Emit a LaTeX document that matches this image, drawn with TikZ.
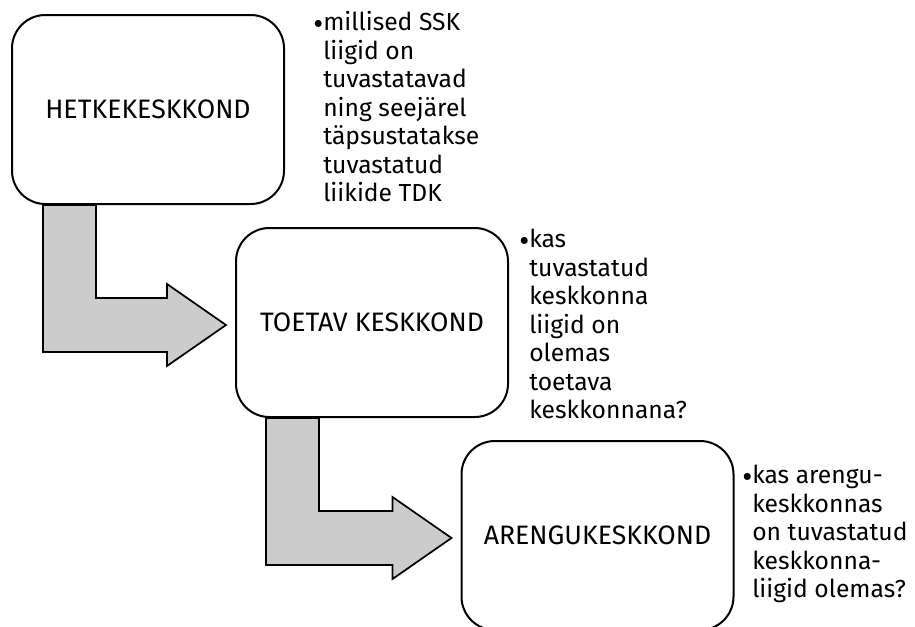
\documentclass[tikz,border=0pt]{standalone}
\usepackage{fontspec}
\setmainfont{Fira Sans}
\usetikzlibrary{calc,backgrounds}

\tikzset{
  stage/.style={draw=black, line width=1.5pt, fill=white, rounded corners=25pt,
    minimum width=204pt, minimum height=141.75pt, inner sep=0pt,
    font=\fontsize{20pt}{22pt}\selectfont},
  notes/.style={anchor=north west, align=left, inner sep=0pt,
    font=\fontsize{18.5pt}{21.4pt}\selectfont},
  bigarrow/.style={draw=black, line width=1.3pt, fill=black!20, line join=miter}
}
\newcommand{\notebullet}{\llap{\raisebox{-0.3ex}{\scalebox{1.25}{•}}}}

\begin{document}
\begin{tikzpicture}[x=0.75pt, y=-0.75pt]
  \useasboundingbox (0,0) rectangle (915,626);
  \clip (0,0) rectangle (915,626);

  % the three stages, staircase layout
  \node[stage] (h) at (148,109.5) {HETKEKESKKOND};
  \node[stage] (t) at (372,322.5) {TOETAV KESKKOND};
  \node[stage] (a) at (597.5,535.5) {ARENGUKESKKOND};

  % bent block arrows from each stage to the next, behind the boxes
  \coordinate (T1) at ($(t.west)+(-9,2.5)$);
  \coordinate (T2) at ($(a.west)+(-9,2.5)$);
  \begin{scope}[on background layer]
    \draw[bigarrow] ($(h.south west)+(32,0)$) |- ($(T1)+(-59,27)$)
       -- ($(T1)+(-59,41)$) -- (T1) -- ($(T1)+(-59,-41)$)
       -- ($(T1)+(-59,-27)$) -| ($(h.south west)+(85,0)$) -- cycle;
    \draw[bigarrow] ($(t.south west)+(31,0)$) |- ($(T2)+(-59,27)$)
       -- ($(T2)+(-59,41)$) -- (T2) -- ($(T2)+(-59,-41)$)
       -- ($(T2)+(-59,-27)$) -| ($(t.south west)+(84,0)$) -- cycle;
  \end{scope}

  % bullet notes
  \node[notes] (n1) at (323,11) {\notebullet millised SSK\\liigid on\\tuvastatavad\\ning seejärel\\täpsustatakse\\tuvastatud\\liikide TDK};
  \node[notes] (n2) at (529,229) {\notebullet kas\\tuvastatud\\keskkonna\\liigid on\\olemas\\toetava\\keskkonnana?};
  \node[notes] (n3) at (752,465) {\notebullet kas arengu-\\keskkonnas\\on tuvastatud\\keskkonna-\\liigid olemas?};
\end{tikzpicture}
\end{document}
